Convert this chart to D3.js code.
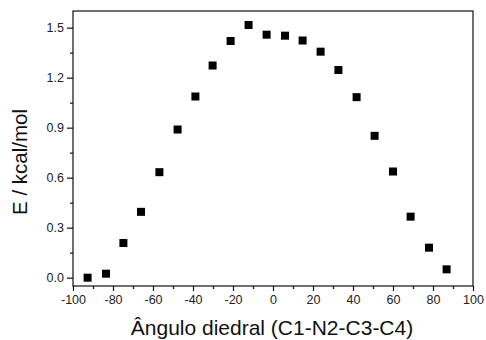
<!DOCTYPE html>
<html>
<head>
<meta charset="utf-8">
<script src="https://cdn.jsdelivr.net/npm/d3@7"></script>
<style>
  html, body { margin: 0; padding: 0; background: #fff; }
  svg { display: block; font-family: "Liberation Sans", Arial, sans-serif; }
</style>
</head>
<body>
<svg id="chart" width="486" height="340"></svg>
<script>
// Dihedral scan: relative energy vs. C1-N2-C3-C4 angle
const angles = [-92.7, -83.5, -74.8, -66.0, -56.8, -47.7, -38.8, -30.2, -21.2, -12.2,
                -3.2, 6.0, 14.8, 23.8, 32.7, 41.8, 50.8, 60.0, 68.8, 78.0, 86.8];
const energies = [0.00, 0.024, 0.208, 0.395, 0.633, 0.889, 1.087, 1.273, 1.420, 1.516,
                  1.458, 1.452, 1.423, 1.356, 1.246, 1.083, 0.851, 0.637, 0.366, 0.180, 0.050];
const xTicks = [-100, -80, -60, -40, -20, 0, 20, 40, 60, 80, 100];
const yTicks = [0.0, 0.3, 0.6, 0.9, 1.2, 1.5];
const xMinor = d3.range(-90, 100, 20);
const yMinor = [0.15, 0.45, 0.75, 1.05, 1.35];

const svg = d3.select("#chart");
const plotL = 73, plotR = 473, plotT = 11, plotB = 286;

const x = d3.scaleLinear().domain([-100, 100]).range([plotL, plotR]);
const y = d3.scaleLinear().domain([-0.05, 1.6]).range([plotB, plotT]);

// plain hyphen for negative tick labels
const fmtX = d3.formatLocale({ decimal: ".", thousands: ",", grouping: [3], currency: ["", ""], minus: "-" }).format("d");

// frame
svg.append("rect")
  .attr("x", plotL).attr("y", plotT)
  .attr("width", plotR - plotL).attr("height", plotB - plotT)
  .attr("fill", "none").attr("stroke", "#111").attr("stroke-width", 1.2);

// x axis
const gx = svg.append("g").attr("transform", `translate(0,${plotB})`);
gx.call(d3.axisBottom(x).tickValues(xTicks).tickFormat(fmtX).tickSize(5).tickPadding(4));
gx.append("g").call(d3.axisBottom(x).tickValues(xMinor).tickSize(3).tickFormat(""));

// y axis
const gy = svg.append("g").attr("transform", `translate(${plotL},0)`);
gy.call(d3.axisLeft(y).tickValues(yTicks).tickFormat(d3.format(".1f")).tickSize(6).tickPadding(3));
gy.append("g").call(d3.axisLeft(y).tickValues(yMinor).tickSize(3).tickFormat(""));

svg.selectAll(".domain").remove();
svg.selectAll(".tick line").attr("stroke", "#111").attr("stroke-width", 1.2);
svg.selectAll(".tick text").attr("font-size", 12.5).attr("fill", "#222")
  .attr("font-family", "Liberation Sans, Arial, sans-serif");

// data markers
const s = 8;
svg.append("g").selectAll("rect")
  .data(angles.map((a, i) => [a, energies[i]]))
  .join("rect")
  .attr("x", d => x(d[0]) - s / 2)
  .attr("y", d => y(d[1]) - s / 2)
  .attr("width", s).attr("height", s)
  .attr("fill", "#000");

// axis titles
svg.append("text")
  .attr("x", (plotL + plotR) / 2 - 1).attr("y", 335)
  .attr("text-anchor", "middle").attr("font-size", 21).attr("fill", "#111")
  .text("Ângulo diedral (C1-N2-C3-C4)");

svg.append("text")
  .attr("transform", `translate(27,162) rotate(-90)`)
  .attr("text-anchor", "middle").attr("font-size", 20.5).attr("fill", "#111")
  .text("E / kcal/mol");
</script>
</body>
</html>
